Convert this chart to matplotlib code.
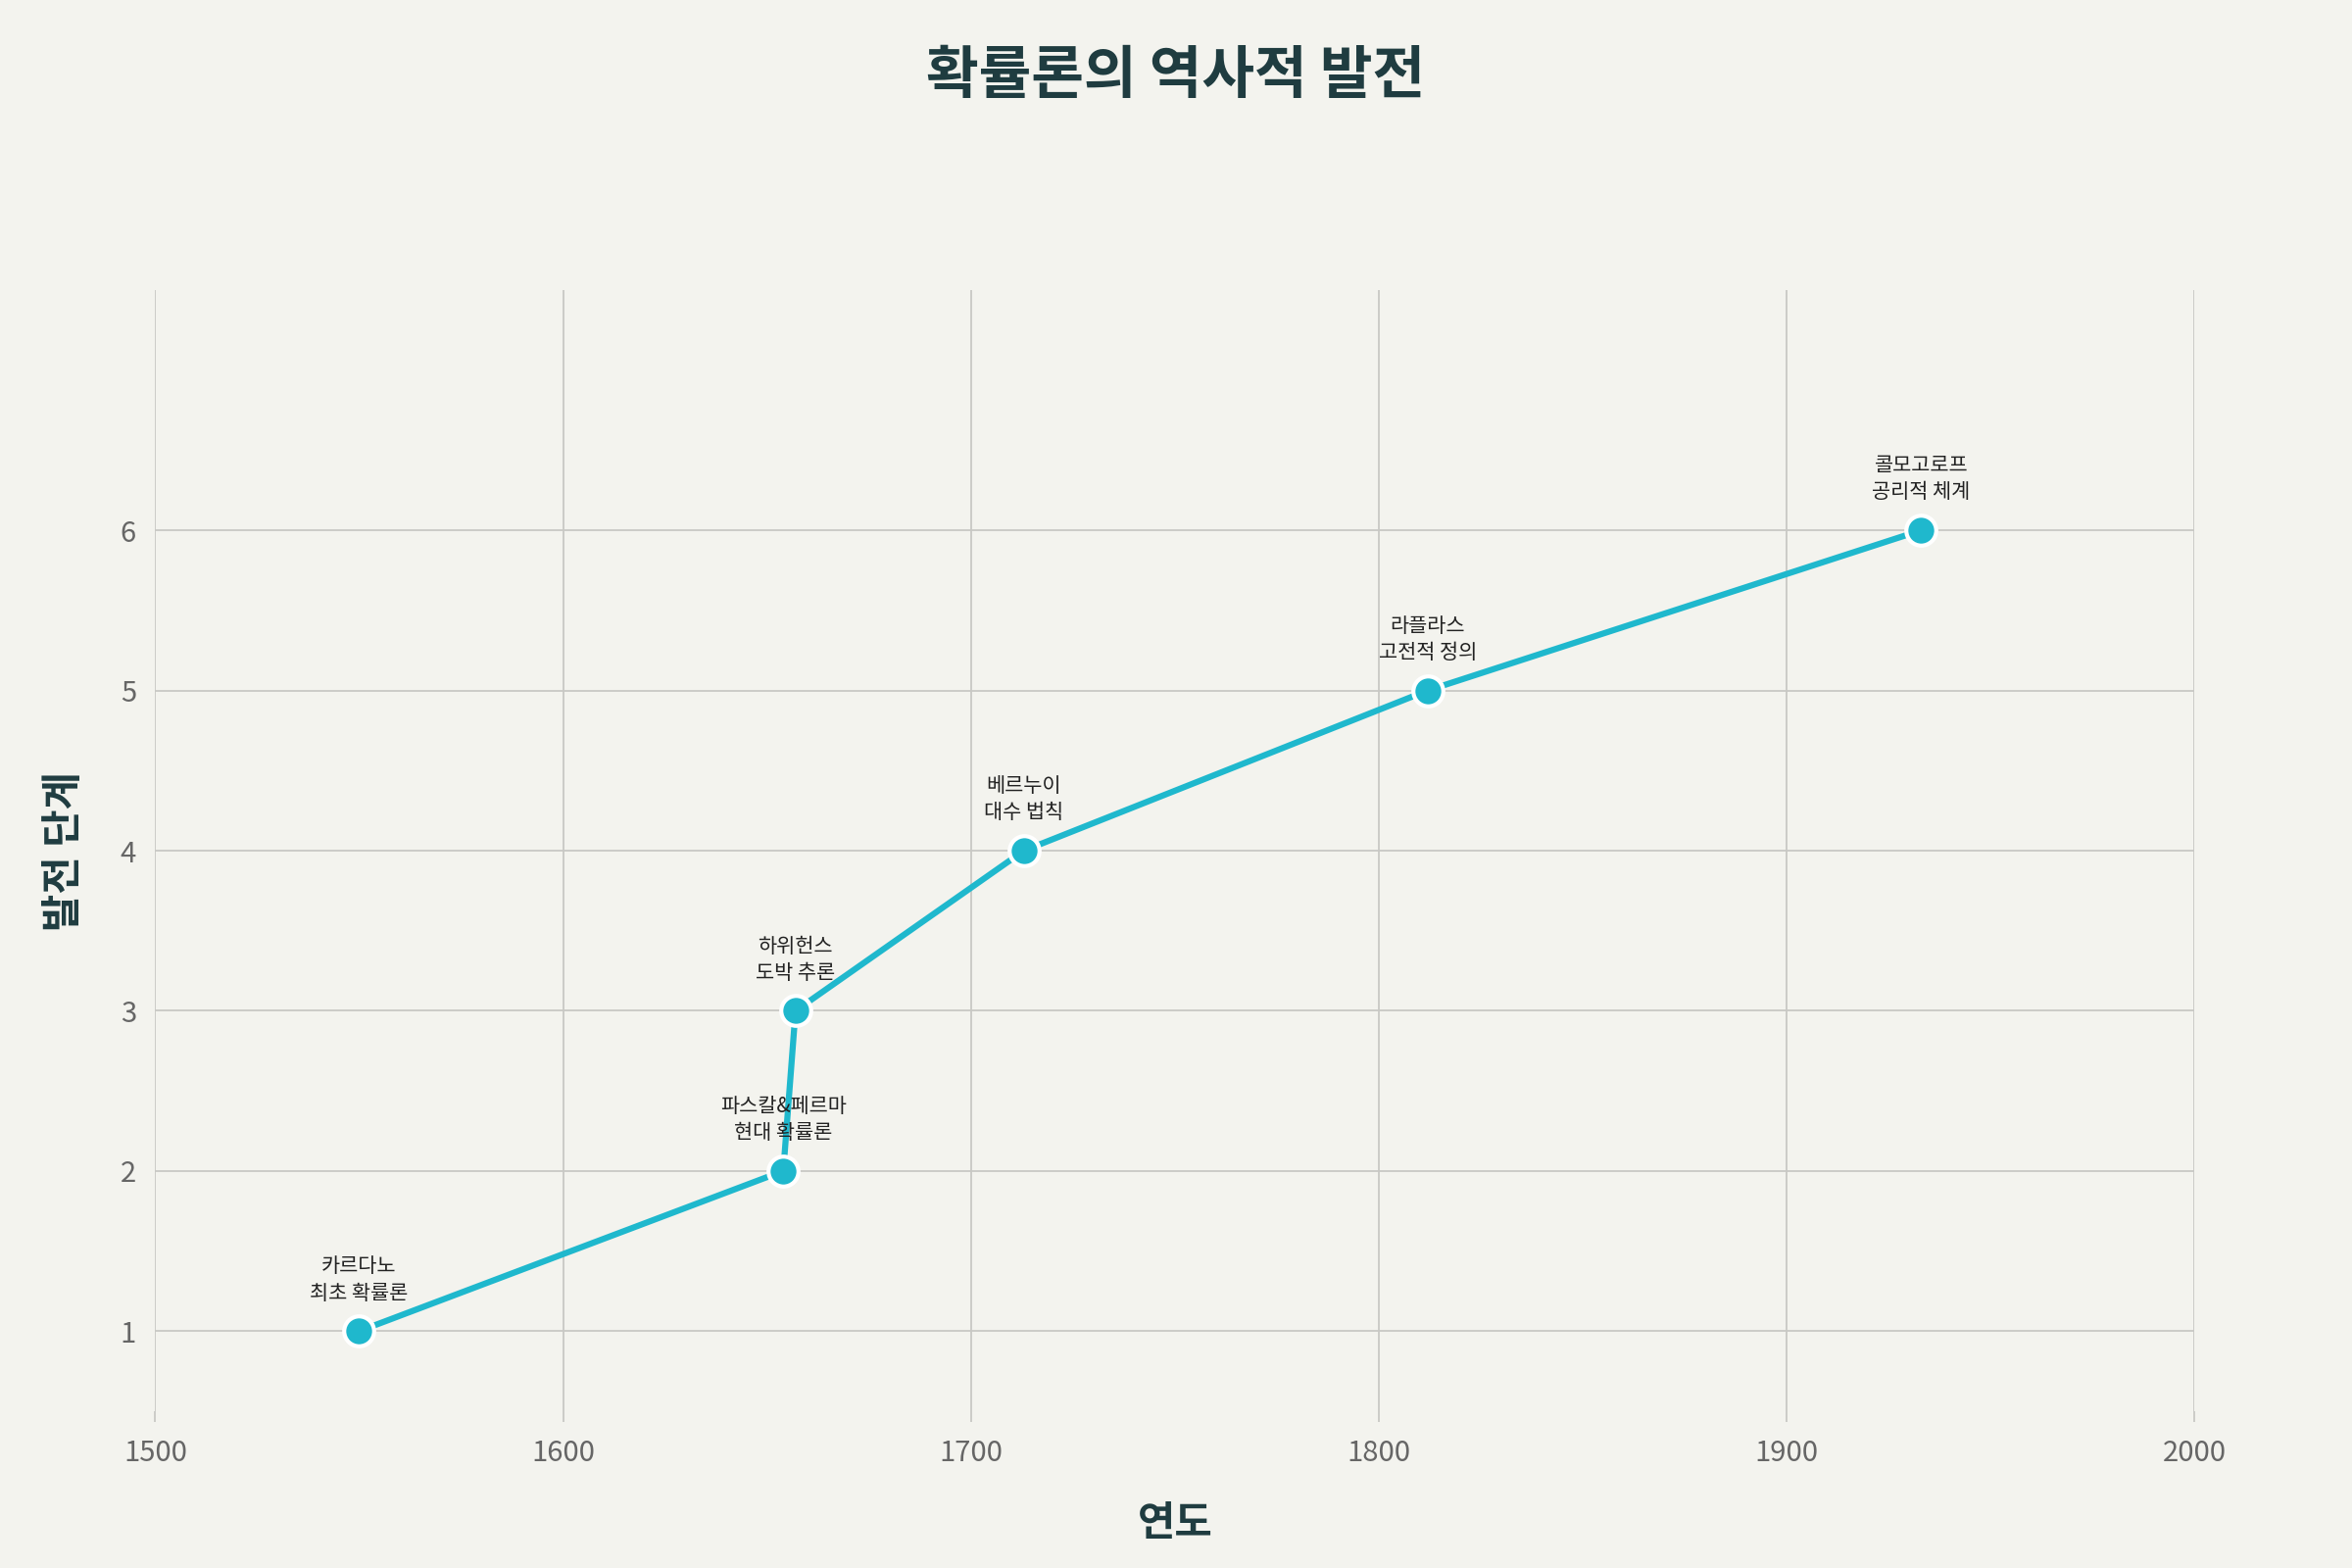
import matplotlib.pyplot as plt

plt.rcParams["font.family"] = ["Noto Sans CJK JP", "Noto Sans CJK KR", "Noto Sans CJK SC", "DejaVu Sans"]

years = [1550, 1654, 1657, 1713, 1812, 1933]
stages = [1, 2, 3, 4, 5, 6]
labels = ["카르다노\n최초 확률론", "파스칼&페르마\n현대 확률론", "하위헌스\n도박 추론",
          "베르누이\n대수 법칙", "라플라스\n고전적 정의", "콜모고로프\n공리적 체계"]

bg = "#f3f3ee"
dark = "#1f3c40"
teal = "#1fb8cd"

fig = plt.figure(figsize=(24, 16), dpi=100, facecolor=bg)
ax = fig.add_axes([0.066, 0.100, 0.867, 0.715], facecolor=bg)

ax.plot(years, stages, color=teal, linewidth=4.5, marker="o", markersize=22,
        markerfacecolor=teal, markeredgecolor="white", markeredgewidth=3, zorder=3)
for x, y, t in zip(years, stages, labels):
    ax.annotate(t, (x, y), xytext=(0, 20), textcoords="offset points",
                ha="center", va="bottom", fontsize=15, color="#222222",
                linespacing=1.3, zorder=4)

ax.set_xlim(1500, 2000)
ax.set_ylim(0.5, 7.5)
ax.set_xticks([1500, 1600, 1700, 1800, 1900, 2000])
ax.set_yticks([1, 2, 3, 4, 5, 6])
ax.grid(True, color="#c8c8c4", linewidth=1.3)
ax.set_axisbelow(True)
for s in ax.spines.values():
    s.set_visible(False)
ax.tick_params(axis="both", labelsize=21, colors="#666666", length=0, pad=14)
ax.tick_params(axis="x", length=8, color="#c8c8c4", width=1.3, pad=12)

ax.set_xlabel("연도", fontsize=30, fontweight="bold", color=dark, labelpad=26)
ax.set_ylabel("발전 단계", fontsize=30, fontweight="bold", color=dark, labelpad=26)
fig.suptitle("확률론의 역사적 발전", fontsize=42, fontweight="bold", color=dark, y=0.97)

fig.savefig("out.png", facecolor=bg)
